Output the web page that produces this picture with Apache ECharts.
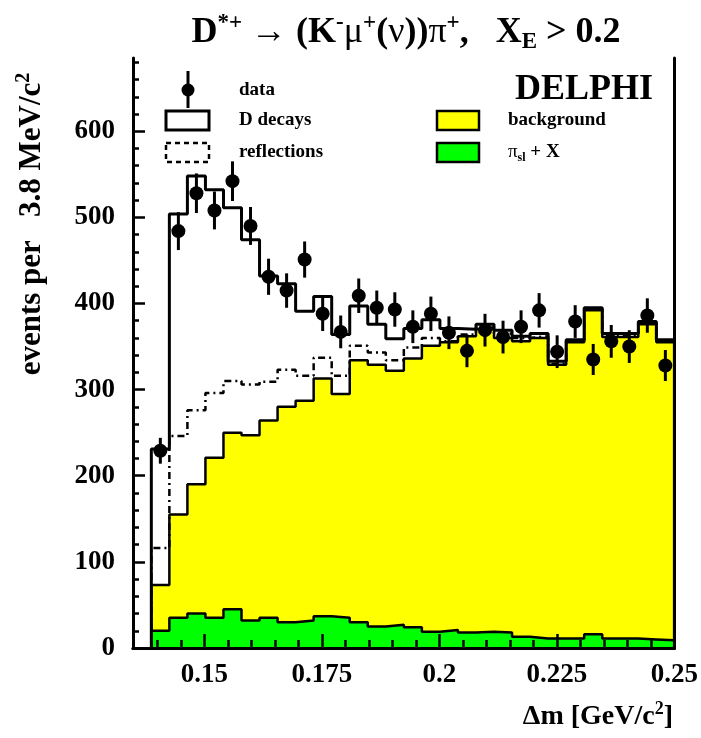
<!DOCTYPE html>
<html>
<head>
<meta charset="utf-8">
<script src="https://cdn.jsdelivr.net/npm/echarts@6/dist/echarts.min.js"></script>
<style>
  html, body { margin: 0; padding: 0; background: #fff; }
  #chart { width: 701px; height: 738px; }
</style>
</head>
<body>
<div id="chart"></div>
<script>
// ---- data ----
const binStart = 0.1387;      // GeV/c^2, left edge of first bin
const binWidth = 0.003838;    // ~3.8 MeV/c^2
const dataCounts = [229, 484, 528, 508, 542, 490, 431, 415, 451, 388, 367, 409, 395, 393, 373, 388, 366, 345, 369, 361, 373, 392, 344, 379, 335, 356, 350, 386, 328];
const dataErrors = [15, 22, 23, 22, 23, 22, 21, 20, 21, 20, 19, 20, 20, 20, 19, 20, 19, 19, 19, 19, 19, 20, 19, 19, 18, 19, 19, 20, 18];
const dDecays    = [231, 504, 548, 532, 511, 474, 432, 423, 391, 408, 364, 397, 376, 359, 371, 381, 371, 370, 376, 369, 362, 365, 333, 358, 395, 365, 365, 379, 358];
const reflections= [116, 246, 276, 296, 310, 306, 309, 323, 316, 337, 316, 351, 343, 334, 349, 360, 356, 364, 372, 365, 360, 362, 330, 356, 394, 363, 363, 377, 356];
const background = [73, 155, 190, 221, 250, 247, 264, 280, 287, 313, 295, 334, 329, 322, 336, 351, 355, 362, 370, 360, 356, 360, 329, 355, 392, 361, 361, 376, 355];
const piSlX      = [20, 35, 40, 35, 45, 32, 35, 30, 32, 37, 35, 30, 25, 27, 24, 19, 21, 18, 19, 18, 13, 11, 11, 11, 16, 11, 11, 10, 9];

const xMajorTicks = [0.15, 0.175, 0.2, 0.225, 0.25];
const xMinorTicks = [0.14, 0.145, 0.155, 0.16, 0.165, 0.17, 0.18, 0.185, 0.19, 0.195, 0.205, 0.21, 0.215, 0.22, 0.23, 0.235, 0.24, 0.245];
const yMajorTicks = [0, 100, 200, 300, 400, 500, 600];
const yMinorTicks = [20, 40, 60, 80, 120, 140, 160, 180, 220, 240, 260, 280, 320, 340, 360, 380, 420, 440, 460, 480, 520, 540, 560, 580, 620, 640, 660, 680];

const X_MIN = 0.1348, X_MAX = 0.25, Y_MIN = 0, Y_MAX = 685;

// ---- helpers ----
function stepPoints(vals) {
  const pts = [[binStart, 0]];
  vals.forEach((v, i) => {
    const l = binStart + i * binWidth, r = l + binWidth;
    pts.push([l, v], [r, v]);
  });
  pts.push([binStart + vals.length * binWidth, 0]);
  return pts;
}
const centers = dataCounts.map((_, i) => binStart + (i + 0.5) * binWidth);
const pointData = dataCounts.map((v, i) => [centers[i], v]);
const errData = dataCounts.map((v, i) => [centers[i], v - dataErrors[i], v + dataErrors[i]]);

const FONT = '"Liberation Serif", "Times New Roman", serif';
const chart = echarts.init(document.getElementById('chart'), null, { renderer: 'canvas' });

const axisCommon = { min: X_MIN, max: X_MAX, type: 'value', splitLine: { show: false } };
const yCommon = { min: Y_MIN, max: Y_MAX, type: 'value', splitLine: { show: false } };

const option = {
  animation: false,
  backgroundColor: '#ffffff',
  grid: { left: 133, right: 25, top: 58, bottom: 90, containLabel: false },
  xAxis: [
    Object.assign({}, axisCommon, {
      position: 'bottom', z: 10,
      axisLine: { show: true, lineStyle: { color: '#000', width: 3 } },
      axisTick: { show: true, inside: true, length: 14, customValues: xMajorTicks, lineStyle: { color: '#000', width: 2.5 } },
      axisLabel: { show: true, customValues: xMajorTicks, margin: 14, color: '#000',
        fontFamily: FONT, fontWeight: 'bold', fontSize: 27,
        formatter: v => String(+v.toFixed(3)) }
    }),
    Object.assign({}, axisCommon, {
      position: 'bottom', z: 10,
      axisLine: { show: false },
      axisTick: { show: true, inside: true, length: 8, customValues: xMinorTicks, lineStyle: { color: '#000', width: 2.5 } },
      axisLabel: { show: false }
    }),
    Object.assign({}, axisCommon, {
      position: 'top', z: 10,
      axisLine: { show: true, lineStyle: { color: '#000', width: 3 } },
      axisTick: { show: false }, axisLabel: { show: false }
    })
  ],
  yAxis: [
    Object.assign({}, yCommon, {
      position: 'left', z: 10,
      axisLine: { show: true, lineStyle: { color: '#000', width: 3 } },
      axisTick: { show: true, inside: true, length: 12, customValues: yMajorTicks, lineStyle: { color: '#000', width: 2.5 } },
      axisLabel: { show: true, customValues: yMajorTicks, margin: 18, color: '#000',
        fontFamily: FONT, fontWeight: 'bold', fontSize: 27 }
    }),
    Object.assign({}, yCommon, {
      position: 'left', z: 10,
      axisLine: { show: false },
      axisTick: { show: true, inside: true, length: 6, customValues: yMinorTicks, lineStyle: { color: '#000', width: 2.5 } },
      axisLabel: { show: false }
    }),
    Object.assign({}, yCommon, {
      position: 'right', z: 10,
      axisLine: { show: true, lineStyle: { color: '#000', width: 3 } },
      axisTick: { show: false }, axisLabel: { show: false }
    })
  ],
  series: [
    {
      name: 'background', type: 'line', data: stepPoints(background), symbol: 'none',
      lineStyle: { color: '#000', width: 2.5 }, areaStyle: { color: '#ffff00', opacity: 1 }, z: 2
    },
    {
      name: 'pi_sl + X', type: 'line', data: stepPoints(piSlX), symbol: 'none',
      lineStyle: { color: '#000', width: 2.5 }, areaStyle: { color: '#00ff00', opacity: 1 }, z: 3
    },
    {
      name: 'reflections', type: 'line', data: stepPoints(reflections), symbol: 'none',
      lineStyle: { color: '#000', width: 2.5, type: [7, 4, 2, 4] }, z: 4
    },
    {
      name: 'D decays', type: 'line', data: stepPoints(dDecays), symbol: 'none',
      lineStyle: { color: '#000', width: 3 }, z: 5
    },
    {
      name: 'errors', type: 'custom', data: errData, z: 6,
      renderItem: function (params, api) {
        const p1 = api.coord([api.value(0), api.value(1)]);
        const p2 = api.coord([api.value(0), api.value(2)]);
        return { type: 'line', shape: { x1: p1[0], y1: p1[1], x2: p2[0], y2: p2[1] },
                 style: { stroke: '#000', lineWidth: 3 } };
      }
    },
    {
      name: 'data', type: 'scatter', data: pointData, symbol: 'circle', symbolSize: 14,
      itemStyle: { color: '#000', opacity: 1 }, z: 7
    }
  ],
  graphic: [
    // title
    { type: 'text', z: 100, style: {
        x: 406, y: 33, align: 'center', verticalAlign: 'middle', fill: '#000',
        text: '{b|D}{sup|*+}{b| → (K}{sup|-}{g|μ}{sup|+}{b|(}{g|ν}{b|))}{g|π}{sup|+}{b|,   X}{sub|E}{b| > 0.2}',
        rich: {
          b: { fontFamily: FONT, fontWeight: 'bold', fontSize: 36, lineHeight: 42, fill: '#000' },
          g: { fontFamily: FONT, fontWeight: 'normal', fontSize: 36, lineHeight: 42, fill: '#000' },
          sup: { fontFamily: FONT, fontWeight: 'bold', fontSize: 23, lineHeight: 20, verticalAlign: 'top', fill: '#000' },
          sub: { fontFamily: FONT, fontWeight: 'bold', fontSize: 23, lineHeight: 22, verticalAlign: 'bottom', fill: '#000' }
        }
    } },
    // y title
    { type: 'text', z: 100, x: 32, y: 224, rotation: Math.PI / 2, style: {
        x: 0, y: 0, align: 'center', verticalAlign: 'middle', fill: '#000',
        text: '{b|events per   3.8 MeV/c}{sup|2}',
        rich: {
          b: { fontFamily: FONT, fontWeight: 'bold', fontSize: 31, lineHeight: 36, fill: '#000' },
          sup: { fontFamily: FONT, fontWeight: 'bold', fontSize: 20, lineHeight: 18, verticalAlign: 'top', fill: '#000' }
        }
    } },
    // x title
    { type: 'text', z: 100, style: {
        x: 673, y: 717, align: 'right', verticalAlign: 'middle', fill: '#000',
        text: '{b|Δm [GeV/c}{sup|2}{b|]}',
        rich: {
          b: { fontFamily: FONT, fontWeight: 'bold', fontSize: 28, lineHeight: 34, fill: '#000' },
          sup: { fontFamily: FONT, fontWeight: 'bold', fontSize: 18, lineHeight: 16, verticalAlign: 'top', fill: '#000' }
        }
    } },
    // legend: data
    { type: 'line', z: 100, shape: { x1: 188, y1: 71, x2: 188, y2: 108 }, style: { stroke: '#000', lineWidth: 3 } },
    { type: 'circle', z: 101, shape: { cx: 188, cy: 90, r: 6.5 }, style: { fill: '#000' } },
    { type: 'text', z: 100, style: { x: 239, y: 90, text: 'data', verticalAlign: 'middle', font: 'bold 19px ' + FONT, fill: '#000' } },
    // legend: D decays
    { type: 'rect', z: 100, shape: { x: 166, y: 111, width: 43, height: 19 }, style: { fill: '#fff', stroke: '#000', lineWidth: 3 } },
    { type: 'text', z: 100, style: { x: 239, y: 120, text: 'D decays', verticalAlign: 'middle', font: 'bold 19px ' + FONT, fill: '#000' } },
    // legend: reflections
    { type: 'rect', z: 100, shape: { x: 166, y: 143, width: 43, height: 19 }, style: { fill: 'none', stroke: '#000', lineWidth: 2.5, lineDash: [5, 4] } },
    { type: 'text', z: 100, style: { x: 239, y: 152, text: 'reflections', verticalAlign: 'middle', font: 'bold 19px ' + FONT, fill: '#000' } },
    // legend: background
    { type: 'rect', z: 100, shape: { x: 437, y: 111, width: 42, height: 19 }, style: { fill: '#ffff00', stroke: '#000', lineWidth: 2.5 } },
    { type: 'text', z: 100, style: { x: 508, y: 120, text: 'background', verticalAlign: 'middle', font: 'bold 19px ' + FONT, fill: '#000' } },
    // legend: pi_sl + X
    { type: 'rect', z: 100, shape: { x: 437, y: 143, width: 42, height: 19 }, style: { fill: '#00ff00', stroke: '#000', lineWidth: 2.5 } },
    { type: 'text', z: 100, style: { x: 508, y: 152, verticalAlign: 'middle', fill: '#000',
        text: '{g|π}{sub|sl}{b| + X}',
        rich: {
          b: { fontFamily: FONT, fontWeight: 'bold', fontSize: 19, lineHeight: 24, fill: '#000' },
          g: { fontFamily: FONT, fontWeight: 'normal', fontSize: 19, lineHeight: 24, fill: '#000' },
          sub: { fontFamily: FONT, fontWeight: 'bold', fontSize: 12, lineHeight: 12, verticalAlign: 'bottom', fill: '#000' }
        }
    } },
    // DELPHI
    { type: 'text', z: 100, style: { x: 584, y: 90, text: 'DELPHI', align: 'center', verticalAlign: 'middle', font: 'bold 36px ' + FONT, fill: '#000' } }
  ]
};
chart.setOption(option);
</script>
</body>
</html>
